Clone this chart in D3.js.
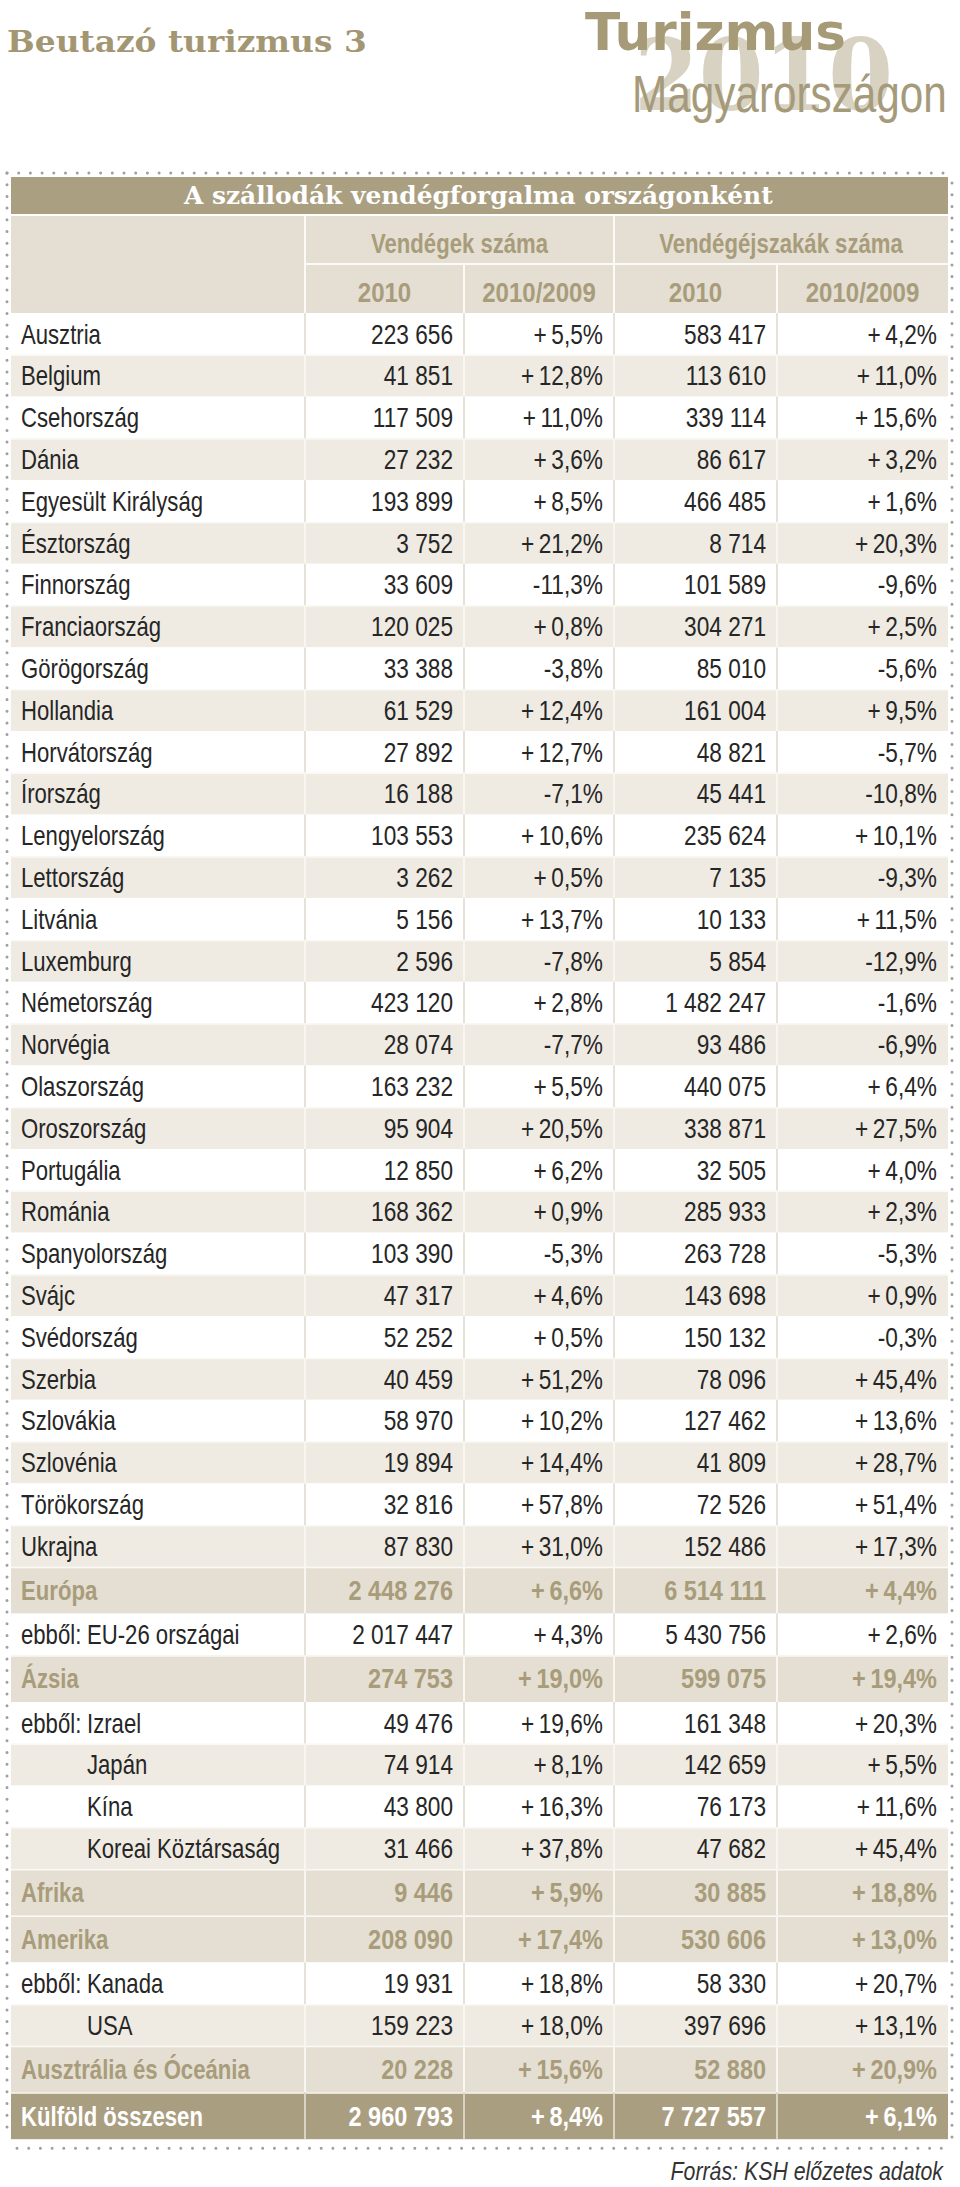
<!DOCTYPE html>
<html><head><meta charset="utf-8">
<script src="https://cdn.jsdelivr.net/npm/d3@7"></script>
<style>html,body{margin:0;padding:0;background:#fff;}svg{display:block;}</style>
</head><body>
<script>
// ---------- data ----------
const rowLabels = ["Ausztria","Belgium","Csehország","Dánia","Egyesült Királyság","Észtország","Finnország","Franciaország","Görögország","Hollandia","Horvátország","Írország","Lengyelország","Lettország","Litvánia","Luxemburg","Németország","Norvégia","Olaszország","Oroszország","Portugália","Románia","Spanyolország","Svájc","Svédország","Szerbia","Szlovákia","Szlovénia","Törökország","Ukrajna","Európa","EU-26 országai","Ázsia","Izrael","Japán","Kína","Koreai Köztársaság","Afrika","Amerika","Kanada","USA","Ausztrália és Óceánia","Külföld összesen"];
const rowTypes = ["country","country","country","country","country","country","country","country","country","country","country","country","country","country","country","country","country","country","country","country","country","country","country","country","country","country","country","country","country","country","region","sub","region","sub","sub2","sub2","sub2","region","region","sub","sub2","region","total"];
const guests2010 = [223656,41851,117509,27232,193899,3752,33609,120025,33388,61529,27892,16188,103553,3262,5156,2596,423120,28074,163232,95904,12850,168362,103390,47317,52252,40459,58970,19894,32816,87830,2448276,2017447,274753,49476,74914,43800,31466,9446,208090,19931,159223,20228,2960793];
const guestsChange = [5.5,12.8,11.0,3.6,8.5,21.2,-11.3,0.8,-3.8,12.4,12.7,-7.1,10.6,0.5,13.7,-7.8,2.8,-7.7,5.5,20.5,6.2,0.9,-5.3,4.6,0.5,51.2,10.2,14.4,57.8,31.0,6.6,4.3,19.0,19.6,8.1,16.3,37.8,5.9,17.4,18.8,18.0,15.6,8.4];
const nights2010 = [583417,113610,339114,86617,466485,8714,101589,304271,85010,161004,48821,45441,235624,7135,10133,5854,1482247,93486,440075,338871,32505,285933,263728,143698,150132,78096,127462,41809,72526,152486,6514111,5430756,599075,161348,142659,76173,47682,30885,530606,58330,397696,52880,7727557];
const nightsChange = [4.2,11.0,15.6,3.2,1.6,20.3,-9.6,2.5,-5.6,9.5,-5.7,-10.8,10.1,-9.3,11.5,-12.9,-1.6,-6.9,6.4,27.5,4.0,2.3,-5.3,0.9,-0.3,45.4,13.6,28.7,51.4,17.3,4.4,2.6,19.4,20.3,5.5,11.6,45.4,18.8,13.0,20.7,13.1,20.9,6.1];
const groupHeaders = ["Vendégek száma","Vendégéjszakák száma"];
const subHeaders = ["2010","2010/2009","2010","2010/2009"];
const tableTitle = "A szállodák vendégforgalma országonként";
const pageTitle = "Beutazó turizmus 3";
const source = "Forrás: KSH előzetes adatok";

// ---------- layout ----------
const W = 960, H = 2187;
const colEdges = [11, 305, 464, 614, 777, 948];
const C = {
  bar:"#ab9f81", head:"#e4dfd2", headText:"#a89c7b", beige:"#efebe2", region:"#e4dfd2",
  regionText:"#a89c7b", total:"#aa9e80", text:"#262626", dots:"#9f9f9f"
};
const loc = d3.formatLocale({decimal:",", thousands:"\u00a0", grouping:[3], currency:["",""], minus:"-"});
const fNum = loc.format(",d");
const fPct = v => (v > 0 ? "+\u2009" : "") + loc.format(".1f")(v) + "%";

const svg = d3.select("body").append("svg").attr("width", W).attr("height", H)
  .style("font-family", "'Liberation Sans', Arial, sans-serif");

function txt(g, s, x, y, opt) {
  const t = g.append("text").text(s)
    .attr("font-size", opt.size).attr("font-weight", opt.weight || "normal")
    .attr("font-family", opt.family || null)
    .attr("font-style", opt.style || null)
    .attr("fill", opt.fill).attr("text-anchor", opt.anchor || "start")
    .attr("transform", `translate(${x},${y}) scale(${opt.sx || 1},1)`);
  if (opt.fit) {
    const w = t.node().getComputedTextLength();
    t.attr("transform", `translate(${x},${y}) scale(${opt.fit / w},1)`);
  }
  return t;
}

// ---------- page heading ----------
txt(svg, pageTitle, 7, 52, {size:30, weight:"bold", family:"'DejaVu Serif', serif", fill:"#a39773", fit:360});
txt(svg, "2010", 634, 110, {size:100, weight:"bold", family:"'DejaVu Serif', serif", fill:"#d8d2c3", fit:259});
txt(svg, "Turizmus", 585, 50, {size:51, weight:"bold", family:"'DejaVu Sans', sans-serif", fill:"#a69a77", fit:261});
txt(svg, "Magyarországon", 632, 112, {size:51, fill:"#a59a7a", fit:315});

// ---------- row geometry ----------
const rowH = t => (t === "region" || t === "total") ? 46.6 : 41.8;
const rows = [];
let yCur = 313, subIdx = 0;
rowLabels.forEach((lab, i) => {
  const t = rowTypes[i];
  let bg;
  if (t === "country") bg = (i % 2 === 0) ? "#ffffff" : C.beige;
  else if (t === "region") { bg = C.region; subIdx = 0; }
  else if (t === "total") bg = C.total;
  else { bg = (subIdx % 2 === 0) ? "#ffffff" : C.beige; subIdx++; }
  rows.push({i, label:lab, type:t, y:yCur, h:rowH(t), bg});
  yCur += rowH(t);
});
const tableBottom = yCur;

// ---------- table title bar + header ----------
svg.append("rect").attr("x", colEdges[0]).attr("y", 177).attr("width", colEdges[5]-colEdges[0]).attr("height", 37).attr("fill", C.bar);
txt(svg, tableTitle, 184, 204, {size:24, weight:"bold", family:"'DejaVu Serif', serif", fill:"#ffffff", fit:589});

svg.append("rect").attr("x", colEdges[0]).attr("y", 216).attr("width", colEdges[5]-colEdges[0]).attr("height", 97).attr("fill", C.head);
const hl = svg.append("g").attr("stroke", "#fbfaf6").attr("stroke-width", 2);
hl.append("line").attr("x1", colEdges[1]).attr("x2", colEdges[1]).attr("y1", 216).attr("y2", 313);
hl.append("line").attr("x1", colEdges[3]).attr("x2", colEdges[3]).attr("y1", 216).attr("y2", 313);
hl.append("line").attr("x1", colEdges[2]).attr("x2", colEdges[2]).attr("y1", 264).attr("y2", 313);
hl.append("line").attr("x1", colEdges[4]).attr("x2", colEdges[4]).attr("y1", 264).attr("y2", 313);
hl.append("line").attr("x1", colEdges[1]).attr("x2", colEdges[5]).attr("y1", 264).attr("y2", 264);

groupHeaders.forEach((h, k) => {
  const cx = (colEdges[1 + 2*k] + colEdges[3 + 2*k]) / 2;
  txt(svg, h, cx, 253, {size:27, weight:"bold", fill:C.headText, anchor:"middle", sx:0.82});
});
subHeaders.forEach((h, k) => {
  const cx = (colEdges[1 + k] + colEdges[2 + k]) / 2;
  txt(svg, h, cx, 302, {size:27, weight:"bold", fill:C.headText, anchor:"middle", sx:0.89});
});

// ---------- body ----------
const body = svg.append("g");
rows.forEach(r => {
  const g = body.append("g");
  g.append("rect").attr("x", colEdges[0]).attr("y", r.y).attr("width", colEdges[5]-colEdges[0]).attr("height", r.h).attr("fill", r.bg);
  const sepCol = r.bg === "#ffffff" ? "#e7e2d7" : (r.type === "total" ? "#d9d3c3" : "#f8f6f1");
  if (r.bg !== "#ffffff") {
    g.append("line").attr("x1", colEdges[0]).attr("x2", colEdges[5]).attr("y1", r.y + 0.5).attr("y2", r.y + 0.5)
      .attr("stroke", "#faf9f5").attr("stroke-width", 1.5);
  }
  colEdges.slice(1, 5).forEach(x => {
    g.append("line").attr("x1", x).attr("x2", x).attr("y1", r.y).attr("y2", r.y + r.h).attr("stroke", sepCol).attr("stroke-width", 2);
  });
  const bold = r.type === "region" || r.type === "total";
  const fill = r.type === "region" ? C.regionText : (r.type === "total" ? "#ffffff" : C.text);
  const base = r.y + r.h / 2 + 9.6;
  const opt = {size:27, weight: bold ? "bold" : "normal", fill, sx: bold ? 0.82 : 0.82};
  if (r.type === "sub") {
    txt(g, "ebből:", 21, base, opt);
    txt(g, r.label, 87, base, opt);
  } else if (r.type === "sub2") {
    txt(g, r.label, 87, base, opt);
  } else {
    txt(g, r.label, 21, base, opt);
  }
  const vals = [fNum(guests2010[r.i]), fPct(guestsChange[r.i]), fNum(nights2010[r.i]), fPct(nightsChange[r.i])];
  vals.forEach((v, k) => {
    txt(g, v, colEdges[2 + k] - 11, base, {size:27, weight: bold ? "bold" : "normal", fill, anchor:"end", sx: bold ? 0.87 : 0.84});
  });
});

// ---------- dotted frame ----------
const dots = svg.append("g").attr("stroke", C.dots).attr("stroke-width", 3).attr("stroke-linecap", "round").attr("stroke-dasharray", "0 11.7").attr("fill", "none");
const fTop = 173, fBot = tableBottom + 9, fLeft = 7, fRight = 952;
dots.append("line").attr("x1", fLeft).attr("x2", fRight).attr("y1", fTop).attr("y2", fTop);
dots.append("line").attr("x1", fLeft + 10).attr("x2", fRight).attr("y1", fBot).attr("y2", fBot);
dots.append("line").attr("x1", fLeft).attr("x2", fLeft).attr("y1", fTop).attr("y2", fBot - 10);
dots.append("line").attr("x1", fRight).attr("x2", fRight).attr("y1", fTop + 10).attr("y2", fBot);

// ---------- source ----------
txt(svg, source, 943, 2180, {size:26, style:"italic", fill:"#333333", anchor:"end", sx:0.82});
</script>
</body></html>
